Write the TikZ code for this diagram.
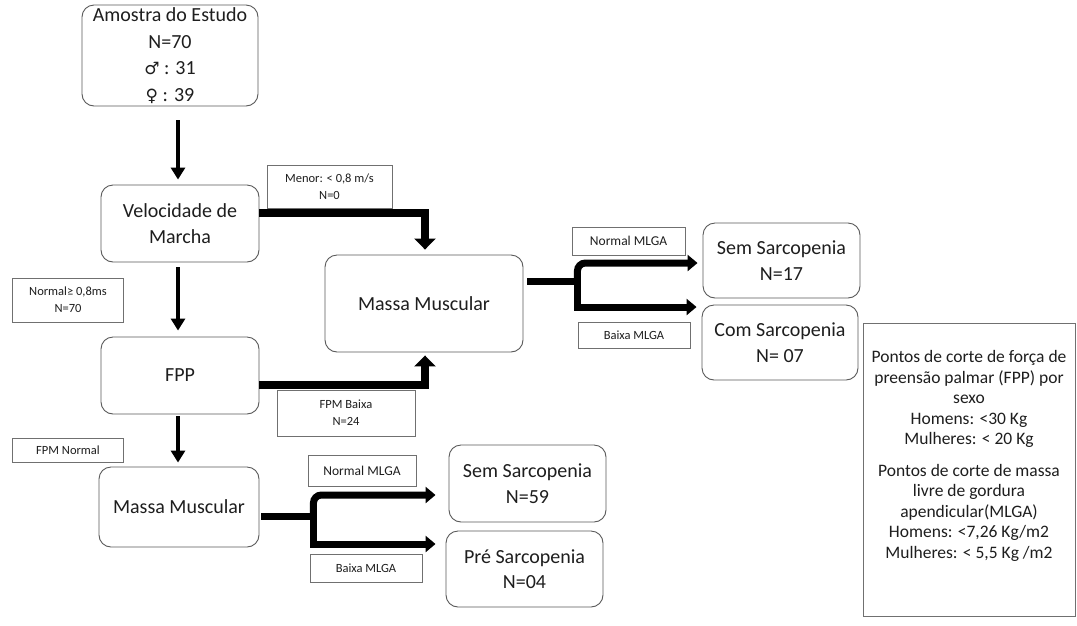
\documentclass[tikz,border=0pt]{standalone}
\usepackage{fontspec}
\setmainfont{Carlito}
\newfontfamily\symfont{DejaVu Sans}
\usetikzlibrary{arrows.meta,calc}
\definecolor{edge}{HTML}{5A5A5A}
\definecolor{ledge}{HTML}{707070}
\definecolor{txt}{HTML}{1E1E1E}
\begin{document}
\begin{tikzpicture}[x=1pt,y=-1pt,
  box/.style={draw=edge, line width=0.9pt, rounded corners=12pt, align=center, inner sep=0pt, text=txt,
    font=\fontsize{20}{25.5}\selectfont},
  lbl/.style={draw=ledge, line width=0.8pt, align=center, inner sep=0pt, text=txt,
    font=\fontsize{12.5}{17}\selectfont},
  lblm/.style={lbl, font=\fontsize{13.5}{16}\selectfont},
  thinarrow/.style={line width=4pt, -{Triangle[width=14pt,length=12pt]}},
  thickarrow/.style={line width=8.5pt, -{Triangle[width=21pt,length=11pt]}},
  branch/.style={line width=7pt, -{Triangle[width=16pt,length=10pt]}},
  stem/.style={line width=7pt}
]
\useasboundingbox (0,0) rectangle (1077,625);
\fill[white] (0,0) rectangle (1077,625);

% main boxes
\node[box, minimum width=176pt, minimum height=101pt, font=\fontsize{20}{26.5}\selectfont] (amostra) at (170,55.5)
  {Amostra do Estudo\\N=70\\{\symfont\fontsize{17}{20}\selectfont ♂} : 31\\{\symfont\fontsize{17}{20}\selectfont ♀} : 39};
\node[box, minimum width=158pt, minimum height=77pt] (vel) at (180,223.5) {Velocidade de\\Marcha};
\node[box, minimum width=158pt, minimum height=77pt] (fpp) at (180,375.5) {FPP};
\node[box, minimum width=160pt, minimum height=80pt] (mmB) at (179,507) {Massa Muscular};
\node[box, minimum width=198pt, minimum height=97pt] (mmA) at (424,303.5) {Massa Muscular};

\node[box, minimum width=157pt, minimum height=75pt] (semA) at (781.5,260.5) {Sem Sarcopenia\\N=17};
\node[box, minimum width=156pt, minimum height=75pt] (comA) at (780,342.5) {Com Sarcopenia\\N= 07};
\node[box, minimum width=157pt, minimum height=77pt] (semB) at (527.5,483.5) {Sem Sarcopenia\\N=59};
\node[box, minimum width=157pt, minimum height=76pt] (preB) at (524.5,569) {Pré Sarcopenia\\N=04};

% labels
\node[lbl, minimum width=125pt, minimum height=43pt] (menor) at (329.5,186.5) {Menor: < 0,8 m/s\\N=0};
\node[lbl, minimum width=111pt, minimum height=44pt] (norm08) at (68,300) {Normal≥ 0,8ms\\N=70};
\node[lbl, minimum width=138pt, minimum height=46pt] (fpmbaixa) at (346,413) {FPM Baixa\\N=24};
\node[lbl, minimum width=111pt, minimum height=24pt] (fpmnormal) at (68,450) {FPM Normal};
\node[lblm, minimum width=113pt, minimum height=28pt] (nmA) at (628.5,241) {Normal MLGA};
\node[lbl, minimum width=112pt, minimum height=26pt] (bmA) at (634,335) {Baixa MLGA};
\node[lblm, minimum width=108pt, minimum height=31pt] (nmB) at (362,471) {Normal MLGA};
\node[lbl, minimum width=112pt, minimum height=28pt] (bmB) at (366,568) {Baixa MLGA};

% legend
\node[draw=ledge, line width=0.9pt, minimum width=212pt, minimum height=293pt, inner sep=0pt] (leg) at (969,469.5) {};
\node[anchor=north, align=center, inner sep=0pt, text=txt, font=\fontsize{17.5}{20.5}\selectfont] (legtxt) at ($(leg.north)+(0,28)$)
  {Pontos de corte de força de\\preensão palmar (FPP) por\\sexo\\Homens: <30 Kg\\Mulheres: < 20 Kg\\[11pt]
   Pontos de corte de massa\\livre de gordura\\apendicular(MLGA)\\Homens: <7,26 Kg/m2\\Mulheres: < 5,5 Kg /m2};

% vertical thin arrows
\draw[thinarrow] ($(amostra.south -| vel.north)+(-2,14)$) -- ($(vel.north)+(-2,-5)$);
\draw[thinarrow] ($(vel.south)+(-2,5)$) -- ($(fpp.north)+(-2,-6)$);
\draw[thinarrow] ($(fpp.south)+(-2,2)$) -- ($(mmB.north)+(-1,-4)$);

% thick connectors to middle Massa Muscular
\draw[thickarrow] ($(vel.east)+(0,-10.5)$) -| ($(mmA.north)+(1,-5)$);
\draw[thickarrow] ($(fpp.east)+(0,9.5)$) -| ($(mmA.south)+(1,3)$);

% fork A
\coordinate (fa) at ($(mmA.east)+(54,-22.5)$);
\draw[stem] ($(mmA.east)+(4,-22.5)$) -- (fa);
\draw[branch, rounded corners=8pt] ([yshift=-3.5pt]fa) |- ($(semA.west)+(-5,2.5)$);
\draw[branch] ([yshift=3.5pt]fa) |- ($(comA.west)+(-5,-35.5)$);

% fork B
\coordinate (fb) at ($(mmB.east)+(54,9)$);
\draw[stem] ($(mmB.east)+(2,9)$) -- (fb);
\draw[branch, rounded corners=8pt] ([yshift=-3.5pt]fb) |- ($(semB.west)+(-13,11.5)$);
\draw[branch] ([yshift=3.5pt]fb) |- ($(preB.west)+(-10,-25)$);
\end{tikzpicture}
\end{document}
